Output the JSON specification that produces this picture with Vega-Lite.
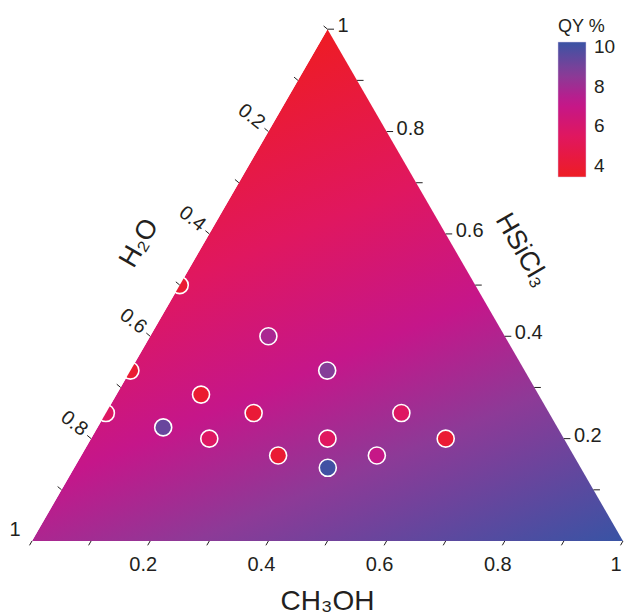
{
  "$schema": "https://vega.github.io/schema/vega-lite/v6.json",
  "width": 626,
  "height": 616,
  "padding": 0,
  "autosize": {"type": "none"},
  "background": "white",
  "config": {"view": {"stroke": null}, "font": "Liberation Sans"},
  "datasets": {
    "tri": [
      {"CH3OH": 0, "HSiCl3": 0, "H2O": 1},
      {"CH3OH": 0, "HSiCl3": 1, "H2O": 0},
      {"CH3OH": 1, "HSiCl3": 0, "H2O": 0}
    ],
    "samples": [
      {"CH3OH": 0, "HSiCl3": 0.5, "H2O": 0.5, "QY": 4.0},
      {"CH3OH": 0, "HSiCl3": 0.333, "H2O": 0.667, "QY": 4.0},
      {"CH3OH": 0, "HSiCl3": 0.25, "H2O": 0.75, "QY": 5.6},
      {"CH3OH": 0.2, "HSiCl3": 0.4, "H2O": 0.4, "QY": 7.8},
      {"CH3OH": 0.333, "HSiCl3": 0.333, "H2O": 0.333, "QY": 8.7},
      {"CH3OH": 0.143, "HSiCl3": 0.286, "H2O": 0.571, "QY": 3.9},
      {"CH3OH": 0.25, "HSiCl3": 0.25, "H2O": 0.5, "QY": 4.1},
      {"CH3OH": 0.5, "HSiCl3": 0.25, "H2O": 0.25, "QY": 5.6},
      {"CH3OH": 0.111, "HSiCl3": 0.222, "H2O": 0.667, "QY": 9.3},
      {"CH3OH": 0.2, "HSiCl3": 0.2, "H2O": 0.6, "QY": 5.6},
      {"CH3OH": 0.4, "HSiCl3": 0.2, "H2O": 0.4, "QY": 5.5},
      {"CH3OH": 0.6, "HSiCl3": 0.2, "H2O": 0.2, "QY": 4.0},
      {"CH3OH": 0.333, "HSiCl3": 0.167, "H2O": 0.5, "QY": 4.0},
      {"CH3OH": 0.5, "HSiCl3": 0.167, "H2O": 0.333, "QY": 7.0},
      {"CH3OH": 0.429, "HSiCl3": 0.143, "H2O": 0.429, "QY": 10.1}
    ],
    "ticks": [
      {"axis": "b", "CH3OH": 0.1, "HSiCl3": 0}, {"axis": "b", "CH3OH": 0.2, "HSiCl3": 0}, {"axis": "b", "CH3OH": 0.3, "HSiCl3": 0},
      {"axis": "b", "CH3OH": 0.4, "HSiCl3": 0}, {"axis": "b", "CH3OH": 0.5, "HSiCl3": 0}, {"axis": "b", "CH3OH": 0.6, "HSiCl3": 0},
      {"axis": "b", "CH3OH": 0.7, "HSiCl3": 0}, {"axis": "b", "CH3OH": 0.8, "HSiCl3": 0}, {"axis": "b", "CH3OH": 0.9, "HSiCl3": 0},
      {"axis": "b", "CH3OH": 1.0, "HSiCl3": 0}, {"axis": "b", "CH3OH": 0, "HSiCl3": 0},
      {"axis": "l", "CH3OH": 0, "HSiCl3": 0.1}, {"axis": "l", "CH3OH": 0, "HSiCl3": 0.2}, {"axis": "l", "CH3OH": 0, "HSiCl3": 0.3},
      {"axis": "l", "CH3OH": 0, "HSiCl3": 0.4}, {"axis": "l", "CH3OH": 0, "HSiCl3": 0.5}, {"axis": "l", "CH3OH": 0, "HSiCl3": 0.6},
      {"axis": "l", "CH3OH": 0, "HSiCl3": 0.7}, {"axis": "l", "CH3OH": 0, "HSiCl3": 0.8}, {"axis": "l", "CH3OH": 0, "HSiCl3": 0.9},
      {"axis": "l", "CH3OH": 0, "HSiCl3": 1.0},
      {"axis": "r", "CH3OH": 0.9, "HSiCl3": 0.1}, {"axis": "r", "CH3OH": 0.8, "HSiCl3": 0.2}, {"axis": "r", "CH3OH": 0.7, "HSiCl3": 0.3},
      {"axis": "r", "CH3OH": 0.6, "HSiCl3": 0.4}, {"axis": "r", "CH3OH": 0.5, "HSiCl3": 0.5}, {"axis": "r", "CH3OH": 0.4, "HSiCl3": 0.6},
      {"axis": "r", "CH3OH": 0.3, "HSiCl3": 0.7}, {"axis": "r", "CH3OH": 0.2, "HSiCl3": 0.8}, {"axis": "r", "CH3OH": 0.1, "HSiCl3": 0.9},
      {"axis": "r", "CH3OH": 0, "HSiCl3": 1.0}
    ],
    "bottomLabels": [
      {"CH3OH": 0.2, "HSiCl3": 0, "H2O": 0.8, "label": "0.2"},
      {"CH3OH": 0.4, "HSiCl3": 0, "H2O": 0.6, "label": "0.4"},
      {"CH3OH": 0.6, "HSiCl3": 0, "H2O": 0.4, "label": "0.6"},
      {"CH3OH": 0.8, "HSiCl3": 0, "H2O": 0.2, "label": "0.8"},
      {"CH3OH": 1.0, "HSiCl3": 0, "H2O": 0, "label": "1"}
    ],
    "leftLabels": [
      {"CH3OH": 0, "HSiCl3": 0.8, "H2O": 0.2, "label": "0.2"},
      {"CH3OH": 0, "HSiCl3": 0.6, "H2O": 0.4, "label": "0.4"},
      {"CH3OH": 0, "HSiCl3": 0.4, "H2O": 0.6, "label": "0.6"},
      {"CH3OH": 0, "HSiCl3": 0.2, "H2O": 0.8, "label": "0.8"}
    ],
    "cornerLabel": [
      {"CH3OH": 0, "HSiCl3": 0, "H2O": 1, "label": "1"}
    ],
    "rightLabels": [
      {"CH3OH": 0.8, "HSiCl3": 0.2, "H2O": 0, "label": "0.2"},
      {"CH3OH": 0.6, "HSiCl3": 0.4, "H2O": 0, "label": "0.4"},
      {"CH3OH": 0.4, "HSiCl3": 0.6, "H2O": 0, "label": "0.6"},
      {"CH3OH": 0.2, "HSiCl3": 0.8, "H2O": 0, "label": "0.8"},
      {"CH3OH": 0, "HSiCl3": 1.0, "H2O": 0, "label": "1"}
    ],
    "titles": [
      {"axis": "CH3OH", "label": "CH₃OH", "CH3OH": 0.5, "HSiCl3": 0, "H2O": 0.5},
      {"axis": "H2O", "label": "H₂O", "CH3OH": 0, "HSiCl3": 0.5, "H2O": 0.5},
      {"axis": "HSiCl3", "label": "HSiCl₃", "CH3OH": 0.5, "HSiCl3": 0.5, "H2O": 0}
    ]
  },
  "layer": [
    {
      "data": {"name": "tri"},
      "transform": [
        {"calculate": "datum.CH3OH + datum.HSiCl3 / 2", "as": "x"},
        {"calculate": "datum.HSiCl3 * 0.8660254", "as": "y"}
      ],
      "mark": {
        "type": "area",
        "orient": "vertical",
        "interpolate": "linear",
        "fill": {
          "gradient": "linear",
          "x1": 0.5, "y1": 0, "x2": 0.985, "y2": 1,
          "stops": [
            {"offset": 0, "color": "#ee1c24"},
            {"offset": 0.3, "color": "#e0175f"},
            {"offset": 0.53, "color": "#c5168a"},
            {"offset": 0.72, "color": "#8d3a97"},
            {"offset": 1, "color": "#3a53a4"}
          ]
        }
      },
      "encoding": {
        "x": {"field": "x", "type": "quantitative", "scale": {"domain": [-0.054146, 1.005076], "nice": false, "zero": false}, "axis": null},
        "y": {"field": "y", "type": "quantitative", "scale": {"domain": [-0.126904, 0.915398], "nice": false, "zero": false}, "axis": null},
        "y2": {"datum": 0}
      }
    },
    {
      "data": {"name": "samples"},
      "transform": [
        {"calculate": "datum.CH3OH + datum.HSiCl3 / 2", "as": "x"},
        {"calculate": "datum.HSiCl3 * 0.8660254", "as": "y"}
      ],
      "mark": {"type": "circle", "size": 290, "opacity": 1, "stroke": "white", "strokeWidth": 1.6},
      "encoding": {
        "x": {"field": "x", "type": "quantitative", "scale": {"domain": [-0.054146, 1.005076], "nice": false, "zero": false}, "axis": null},
        "y": {"field": "y", "type": "quantitative", "scale": {"domain": [-0.126904, 0.915398], "nice": false, "zero": false}, "axis": null},
        "color": {
          "field": "QY", "type": "quantitative",
          "scale": {"domain": [3.45, 5.5, 7.2, 8.7, 10.25], "range": ["#ee1c24", "#e0175f", "#c2178c", "#853e98", "#3a53a4"], "interpolate": "rgb"},
          "legend": {
            "title": "QY %",
            "orient": "none",
            "legendX": 558,
            "legendY": 18,
            "direction": "vertical",
            "gradientLength": 135,
            "gradientThickness": 28,
            "gradientStrokeColor": "#d8c8e8",
            "gradientStrokeWidth": 0.5,
            "values": [4, 6, 8, 10],
            "titleFont": "Liberation Sans",
            "titleFontSize": 18,
            "titleFontWeight": "normal",
            "titleColor": "#231f20",
            "titlePadding": 6,
            "labelFont": "Liberation Sans",
            "labelFontSize": 19,
            "labelColor": "#231f20",
            "labelOffset": 8
          }
        }
      }
    },
    {
      "data": {"name": "tri"},
      "transform": [
        {"filter": "datum.CH3OH == 0"},
        {"calculate": "datum.CH3OH + datum.HSiCl3 / 2", "as": "x"},
        {"calculate": "datum.HSiCl3 * 0.8660254", "as": "y"}
      ],
      "mark": {"type": "area", "orient": "horizontal", "interpolate": "linear", "fill": "white"},
      "encoding": {
        "y": {"field": "y", "type": "quantitative", "scale": {"domain": [-0.126904, 0.915398], "nice": false, "zero": false}, "axis": null},
        "x": {"field": "x", "type": "quantitative", "scale": {"domain": [-0.054146, 1.005076], "nice": false, "zero": false}, "axis": null},
        "x2": {"datum": -0.06}
      }
    },
    {
      "data": {"name": "ticks"},
      "transform": [
        {"calculate": "datum.CH3OH + datum.HSiCl3 / 2", "as": "x"},
        {"calculate": "datum.HSiCl3 * 0.8660254", "as": "y"},
        {"calculate": "datum.x + (datum.axis == 'b' ? -0.0042 : datum.axis == 'l' ? -0.0066 : 0.011)", "as": "xe"},
        {"calculate": "datum.y + (datum.axis == 'b' ? -0.0073 : datum.axis == 'l' ? 0.0055 : 0)", "as": "ye"}
      ],
      "mark": {"type": "rule", "color": "#231f20", "strokeWidth": 1},
      "encoding": {
        "x": {"field": "x", "type": "quantitative", "scale": {"domain": [-0.054146, 1.005076], "nice": false, "zero": false}, "axis": null},
        "y": {"field": "y", "type": "quantitative", "scale": {"domain": [-0.126904, 0.915398], "nice": false, "zero": false}, "axis": null},
        "x2": {"field": "xe"},
        "y2": {"field": "ye"}
      }
    },
    {
      "data": {"name": "bottomLabels"},
      "transform": [
        {"calculate": "datum.CH3OH + datum.HSiCl3 / 2", "as": "x"},
        {"calculate": "datum.HSiCl3 * 0.8660254", "as": "y"}
      ],
      "mark": {"type": "text", "font": "Liberation Sans", "fontSize": 20, "color": "#231f20", "align": "center", "baseline": "middle", "dx": -7, "dy": 24},
      "encoding": {
        "x": {"field": "x", "type": "quantitative", "scale": {"domain": [-0.054146, 1.005076], "nice": false, "zero": false}, "axis": null},
        "y": {"field": "y", "type": "quantitative", "scale": {"domain": [-0.126904, 0.915398], "nice": false, "zero": false}, "axis": null},
        "text": {"field": "label"}
      }
    },
    {
      "data": {"name": "leftLabels"},
      "transform": [
        {"calculate": "datum.CH3OH + datum.HSiCl3 / 2", "as": "x"},
        {"calculate": "datum.HSiCl3 * 0.8660254", "as": "y"}
      ],
      "mark": {"type": "text", "font": "Liberation Sans", "fontSize": 20, "color": "#231f20", "align": "center", "baseline": "middle", "dx": -22.6, "dy": -1.4, "angle": 38},
      "encoding": {
        "x": {"field": "x", "type": "quantitative", "scale": {"domain": [-0.054146, 1.005076], "nice": false, "zero": false}, "axis": null},
        "y": {"field": "y", "type": "quantitative", "scale": {"domain": [-0.126904, 0.915398], "nice": false, "zero": false}, "axis": null},
        "text": {"field": "label"}
      }
    },
    {
      "data": {"name": "cornerLabel"},
      "transform": [
        {"calculate": "datum.CH3OH + datum.HSiCl3 / 2", "as": "x"},
        {"calculate": "datum.HSiCl3 * 0.8660254", "as": "y"}
      ],
      "mark": {"type": "text", "font": "Liberation Sans", "fontSize": 20, "color": "#231f20", "align": "center", "baseline": "middle", "dx": -17, "dy": -11},
      "encoding": {
        "x": {"field": "x", "type": "quantitative", "scale": {"domain": [-0.054146, 1.005076], "nice": false, "zero": false}, "axis": null},
        "y": {"field": "y", "type": "quantitative", "scale": {"domain": [-0.126904, 0.915398], "nice": false, "zero": false}, "axis": null},
        "text": {"field": "label"}
      }
    },
    {
      "data": {"name": "rightLabels"},
      "transform": [
        {"calculate": "datum.CH3OH + datum.HSiCl3 / 2", "as": "x"},
        {"calculate": "datum.HSiCl3 * 0.8660254", "as": "y"}
      ],
      "mark": {"type": "text", "font": "Liberation Sans", "fontSize": 20, "color": "#231f20", "align": "left", "baseline": "middle", "dx": 10, "dy": -3},
      "encoding": {
        "x": {"field": "x", "type": "quantitative", "scale": {"domain": [-0.054146, 1.005076], "nice": false, "zero": false}, "axis": null},
        "y": {"field": "y", "type": "quantitative", "scale": {"domain": [-0.126904, 0.915398], "nice": false, "zero": false}, "axis": null},
        "text": {"field": "label"}
      }
    },
    {
      "data": {"name": "titles"},
      "transform": [
        {"filter": "datum.axis == 'CH3OH'"},
        {"calculate": "datum.CH3OH + datum.HSiCl3 / 2", "as": "x"},
        {"calculate": "datum.HSiCl3 * 0.8660254", "as": "y"}
      ],
      "mark": {"type": "text", "font": "Liberation Sans", "fontSize": 28, "color": "#231f20", "align": "center", "baseline": "middle", "dy": 61},
      "encoding": {
        "x": {"field": "x", "type": "quantitative", "scale": {"domain": [-0.054146, 1.005076], "nice": false, "zero": false}, "axis": null},
        "y": {"field": "y", "type": "quantitative", "scale": {"domain": [-0.126904, 0.915398], "nice": false, "zero": false}, "axis": null},
        "text": {"field": "label"}
      }
    },
    {
      "data": {"name": "titles"},
      "transform": [
        {"filter": "datum.axis == 'H2O'"},
        {"calculate": "datum.CH3OH + datum.HSiCl3 / 2", "as": "x"},
        {"calculate": "datum.HSiCl3 * 0.8660254", "as": "y"}
      ],
      "mark": {"type": "text", "font": "Liberation Sans", "fontSize": 27, "color": "#231f20", "align": "center", "baseline": "middle", "dx": 16, "dy": -56, "angle": -60},
      "encoding": {
        "x": {"field": "x", "type": "quantitative", "scale": {"domain": [-0.054146, 1.005076], "nice": false, "zero": false}, "axis": null},
        "y": {"field": "y", "type": "quantitative", "scale": {"domain": [-0.126904, 0.915398], "nice": false, "zero": false}, "axis": null},
        "text": {"field": "label"}
      }
    },
    {
      "data": {"name": "titles"},
      "transform": [
        {"filter": "datum.axis == 'HSiCl3'"},
        {"calculate": "datum.CH3OH + datum.HSiCl3 / 2", "as": "x"},
        {"calculate": "datum.HSiCl3 * 0.8660254", "as": "y"}
      ],
      "mark": {"type": "text", "font": "Liberation Sans", "fontSize": 27, "color": "#231f20", "align": "center", "baseline": "middle", "dx": -7, "dy": -58, "angle": 60},
      "encoding": {
        "x": {"field": "x", "type": "quantitative", "scale": {"domain": [-0.054146, 1.005076], "nice": false, "zero": false}, "axis": null},
        "y": {"field": "y", "type": "quantitative", "scale": {"domain": [-0.126904, 0.915398], "nice": false, "zero": false}, "axis": null},
        "text": {"field": "label"}
      }
    }
  ]
}
